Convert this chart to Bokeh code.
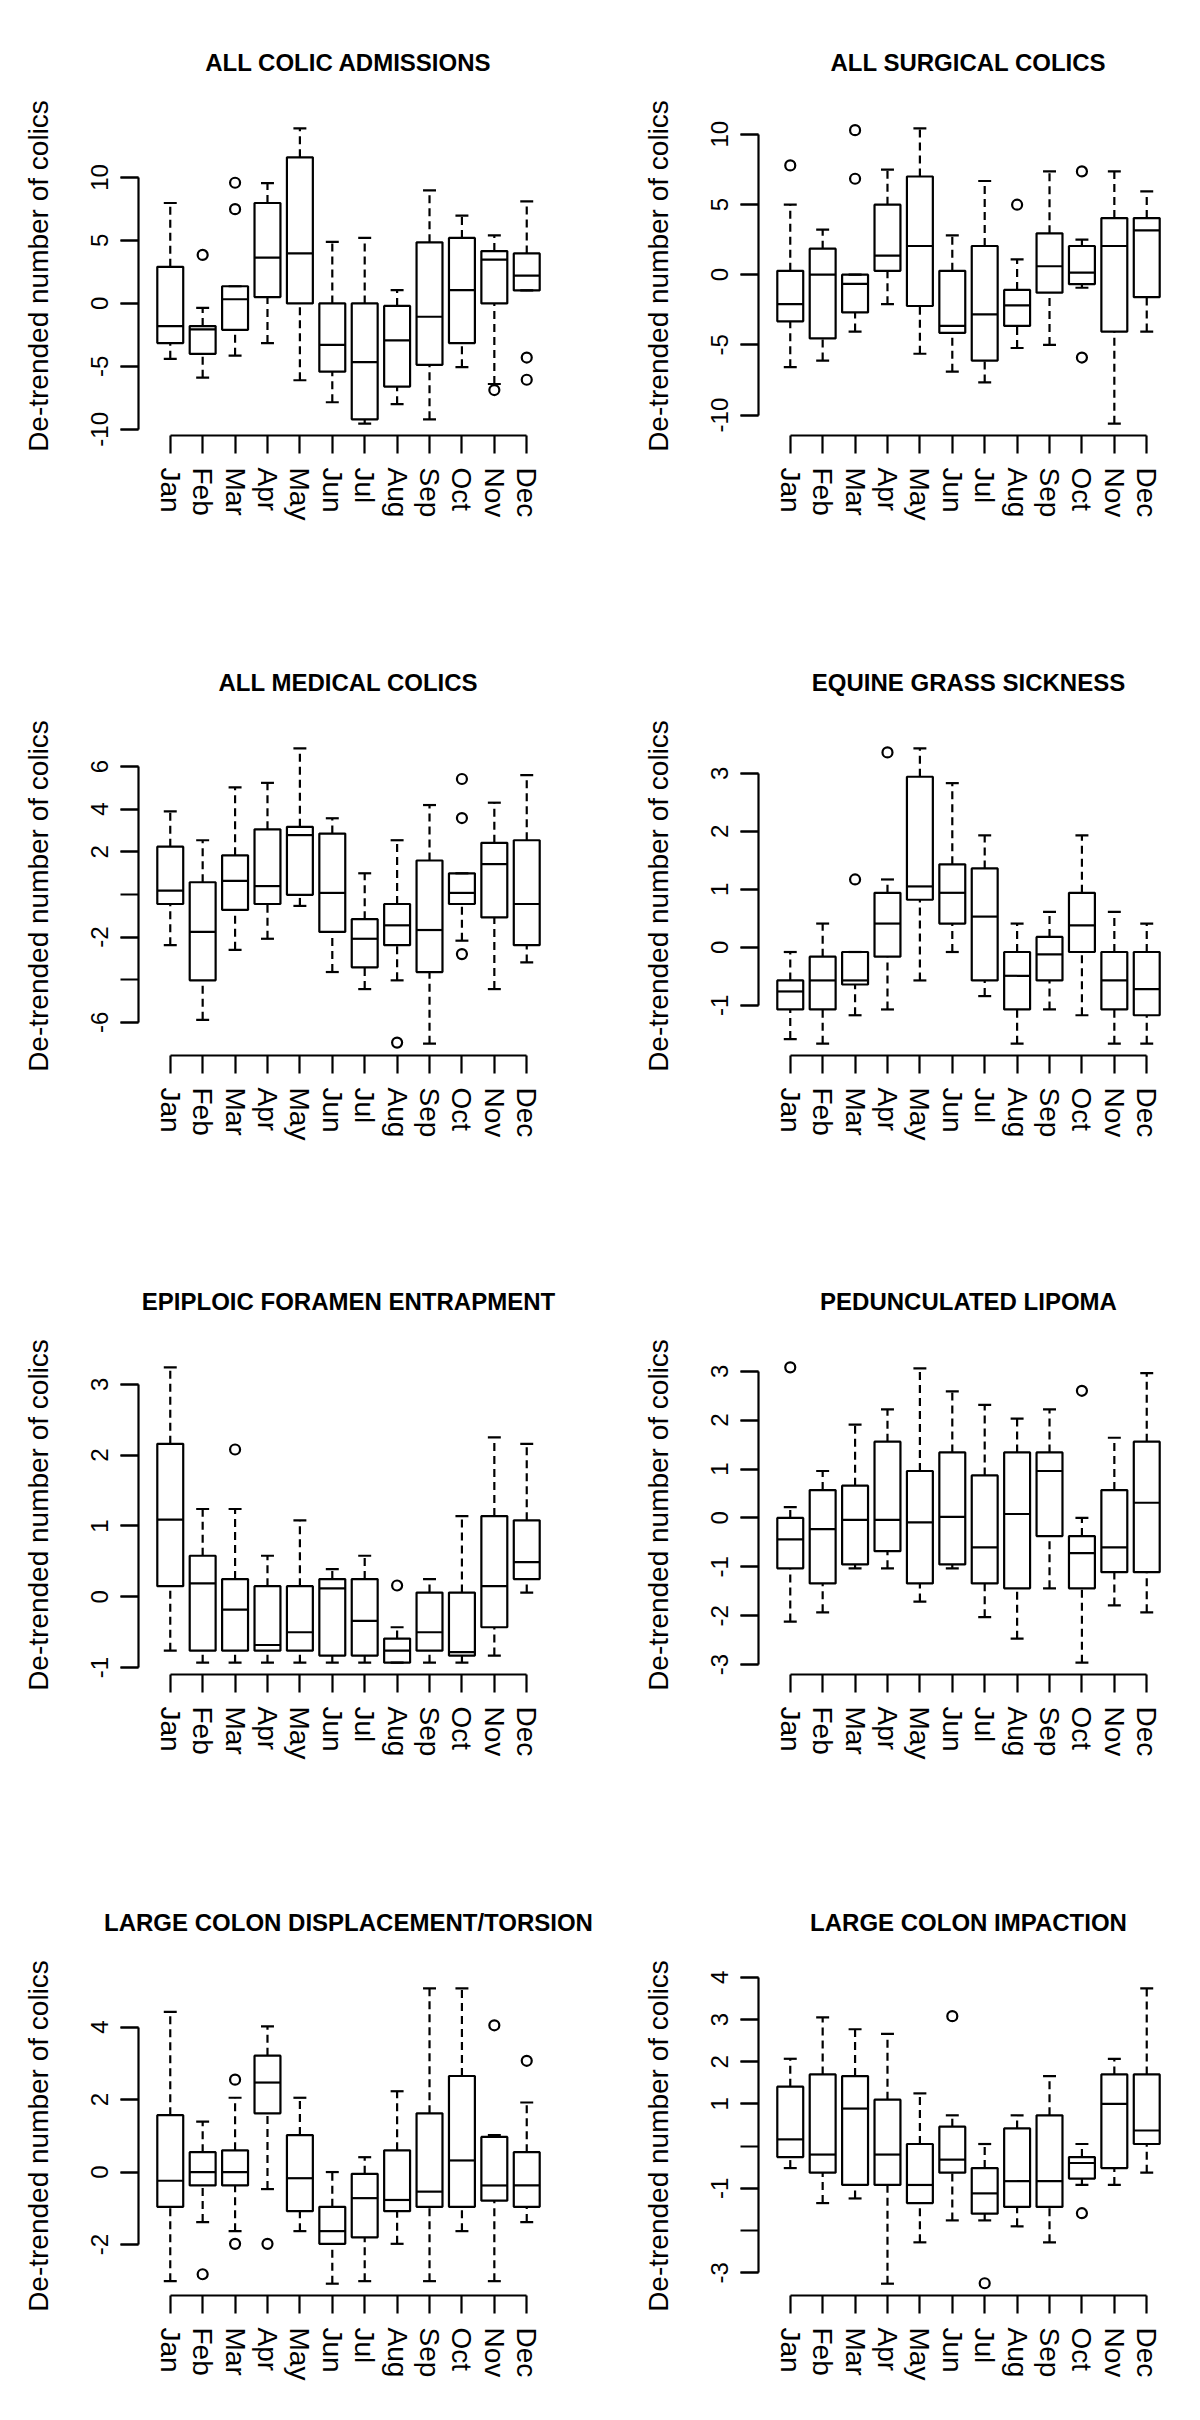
from bokeh.plotting import figure
from bokeh.layouts import column, row
from bokeh.models import FixedTicker, Range1d
from bokeh.embed import file_html
from bokeh.resources import INLINE

MONTHS = ["Jan", "Feb", "Mar", "Apr", "May", "Jun", "Jul", "Aug", "Sep", "Oct", "Nov", "Dec"]

# ---- ALL COLIC ADMISSIONS ----
ACA_LOW = [-4.4, -5.9, -4.15, -3.15, -6.1, -7.85, -9.55, -8.0, -9.2, -5.06, -6.4, 1.03]
ACA_Q1 = [-3.15, -4.0, -2.1, 0.5, 0.0, -5.42, -9.2, -6.6, -4.88, -3.15, 0.0, 1.03]
ACA_MED = [-1.8, -2.06, 0.33, 3.64, 3.97, -3.3, -4.67, -2.94, -1.06, 1.06, 3.48, 2.2]
ACA_Q3 = [2.9, -1.8, 1.36, 7.97, 11.6, 0.0, 0.0, -0.2, 4.85, 5.2, 4.15, 3.97]
ACA_HIGH = [7.97, -0.36, 1.36, 9.55, 13.9, 4.88, 5.2, 1.06, 8.97, 6.97, 5.4, 8.1]
ACA_OUT_MONTH = [2, 3, 3, 11, 12, 12]
ACA_OUT_VALUE = [3.85, 9.58, 7.48, -6.88, -4.3, -6.06]
ACA_TICKS = [-10, -5, 0, 5, 10]
ACA_LABELLED = [-10, -5, 0, 5, 10]

# ---- ALL SURGICAL COLICS ----
ASC_LOW = [-6.59, -6.12, -4.05, -2.1, -5.63, -6.91, -7.67, -5.22, -5.0, -0.93, -10.61, -4.05]
ASC_Q1 = [-3.32, -4.54, -2.69, 0.27, -2.23, -4.14, -6.12, -3.65, -1.28, -0.68, -4.05, -1.6]
ASC_MED = [-2.1, 0.0, -0.65, 1.36, 2.04, -3.65, -2.83, -2.18, 0.6, 0.14, 2.04, 3.16]
ASC_Q3 = [0.27, 1.85, 0.0, 4.98, 6.99, 0.27, 2.04, -1.09, 2.94, 2.04, 4.03, 4.03]
ASC_HIGH = [4.98, 3.21, 0.0, 7.48, 10.42, 2.8, 6.67, 1.09, 7.35, 2.5, 7.35, 5.93]
ASC_OUT_MONTH = [1, 3, 3, 8, 10, 10]
ASC_OUT_VALUE = [7.78, 10.29, 6.83, 4.98, 7.35, -5.9]
ASC_TICKS = [-10, -5, 0, 5, 10]
ASC_LABELLED = [-10, -5, 0, 5, 10]

# ---- ALL MEDICAL COLICS ----
AMC_LOW = [-2.38, -5.88, -2.6, -2.08, -0.54, -3.64, -4.44, -4.03, -7.0, -2.17, -4.44, -3.19]
AMC_Q1 = [-0.45, -4.03, -0.73, -0.45, -0.02, -1.76, -3.42, -2.38, -3.64, -0.45, -1.08, -2.38]
AMC_MED = [0.18, -1.76, 0.63, 0.39, 2.78, 0.07, -2.08, -1.45, -1.67, 0.07, 1.42, -0.45]
AMC_Q3 = [2.24, 0.57, 1.83, 3.05, 3.17, 2.85, -1.16, -0.45, 1.59, 0.99, 2.42, 2.54]
AMC_HIGH = [3.89, 2.54, 5.02, 5.23, 6.85, 3.57, 0.99, 2.54, 4.19, 0.99, 4.3, 5.59]
AMC_OUT_MONTH = [8, 10, 10, 10]
AMC_OUT_VALUE = [-6.95, 5.41, 3.58, -2.8]
AMC_TICKS = [-6, -4, -2, 0, 2, 4, 6]
AMC_LABELLED = [-6, -2, 2, 4, 6]

# ---- EQUINE GRASS SICKNESS ----
EGS_LOW = [-1.58, -1.66, -1.17, -1.07, -0.57, -0.08, -0.84, -1.66, -1.07, -1.17, -1.66, -1.66]
EGS_Q1 = [-1.07, -1.07, -0.64, -0.16, 0.82, 0.41, -0.57, -1.07, -0.57, -0.08, -1.07, -1.17]
EGS_MED = [-0.76, -0.57, -0.57, 0.41, 1.05, 0.94, 0.53, -0.49, -0.12, 0.38, -0.57, -0.72]
EGS_Q3 = [-0.57, -0.16, -0.08, 0.94, 2.94, 1.43, 1.36, -0.08, 0.18, 0.94, -0.08, -0.08]
EGS_HIGH = [-0.08, 0.41, -0.08, 1.17, 3.43, 2.83, 1.93, 0.41, 0.61, 1.93, 0.61, 0.41]
EGS_OUT_MONTH = [3, 4]
EGS_OUT_VALUE = [1.17, 3.36]
EGS_TICKS = [-1, 0, 1, 2, 3]
EGS_LABELLED = [-1, 0, 1, 2, 3]

# ---- EPIPLOIC FORAMEN ENTRAPMENT ----
EFE_LOW = [-0.76, -0.93, -0.93, -0.93, -0.93, -0.93, -0.93, -0.93, -0.93, -0.93, -0.83, 0.06]
EFE_Q1 = [0.15, -0.76, -0.76, -0.76, -0.76, -0.83, -0.83, -0.93, -0.76, -0.83, -0.43, 0.25]
EFE_MED = [1.09, 0.19, -0.18, -0.68, -0.5, 0.12, -0.34, -0.76, -0.5, -0.78, 0.15, 0.49]
EFE_Q3 = [2.16, 0.58, 0.25, 0.15, 0.15, 0.25, 0.25, -0.59, 0.06, 0.06, 1.14, 1.08]
EFE_HIGH = [3.24, 1.24, 1.24, 0.58, 1.08, 0.39, 0.58, -0.43, 0.25, 1.14, 2.25, 2.16]
EFE_OUT_MONTH = [3, 8]
EFE_OUT_VALUE = [2.08, 0.16]
EFE_TICKS = [-1, 0, 1, 2, 3]
EFE_LABELLED = [-1, 0, 1, 2, 3]

# ---- PEDUNCULATED LIPOMA ----
PL_LOW = [-2.12, -1.93, -1.03, -1.03, -1.71, -1.03, -2.03, -2.47, -1.44, -2.96, -1.79, -1.93]
PL_Q1 = [-1.03, -1.34, -0.95, -0.68, -1.34, -0.95, -1.34, -1.44, -0.37, -1.44, -1.11, -1.11]
PL_MED = [-0.44, -0.23, -0.04, -0.04, -0.09, 0.02, -0.6, 0.08, 0.96, -0.72, -0.6, 0.31]
PL_Q3 = [0.0, 0.57, 0.66, 1.56, 0.96, 1.34, 0.87, 1.34, 1.34, -0.37, 0.57, 1.56]
PL_HIGH = [0.22, 0.96, 1.91, 2.22, 3.06, 2.59, 2.31, 2.03, 2.22, 0.0, 1.64, 2.96]
PL_OUT_MONTH = [1, 10]
PL_OUT_VALUE = [3.08, 2.6]
PL_TICKS = [-3, -2, -1, 0, 1, 2, 3]
PL_LABELLED = [-3, -2, -1, 0, 1, 2, 3]

# ---- LARGE COLON DISPLACEMENT/TORSION ----
LCD_LOW = [-3.01, -1.38, -1.63, -0.47, -1.63, -3.08, -3.01, -1.98, -3.01, -1.63, -3.01, -1.38]
LCD_Q1 = [-0.96, -0.37, -0.37, 1.62, -1.08, -1.98, -1.8, -1.08, -0.96, -0.96, -0.79, -0.96]
LCD_MED = [-0.24, 0.0, 0.0, 2.47, -0.17, -1.63, -0.72, -0.77, -0.54, 0.32, -0.37, -0.37]
LCD_Q3 = [1.57, 0.55, 0.6, 3.21, 1.02, -0.96, -0.05, 0.6, 1.62, 2.65, 0.97, 0.55]
LCD_HIGH = [4.42, 1.39, 2.05, 4.02, 2.05, 0.0, 0.41, 2.23, 5.07, 5.07, 1.02, 1.92]
LCD_OUT_MONTH = [2, 3, 3, 4, 11, 12]
LCD_OUT_VALUE = [-2.82, 2.55, -1.98, -1.98, 4.05, 3.07]
LCD_TICKS = [-2, 0, 2, 4]
LCD_LABELLED = [-2, 0, 2, 4]

# ---- LARGE COLON IMPACTION ----
LCI_LOW = [-0.52, -1.35, -1.24, -3.26, -2.28, -1.76, -1.76, -1.9, -2.28, -0.92, -0.92, -0.63]
LCI_Q1 = [-0.26, -0.63, -0.92, -0.92, -1.35, -0.63, -1.6, -1.44, -1.44, -0.77, -0.52, 0.05]
LCI_MED = [0.16, -0.2, 0.89, -0.2, -0.92, -0.32, -1.12, -0.83, -0.83, -0.4, 1.0, 0.37]
LCI_Q3 = [1.41, 1.7, 1.66, 1.1, 0.05, 0.46, -0.52, 0.42, 0.73, -0.26, 1.7, 1.7]
LCI_HIGH = [2.07, 3.05, 2.77, 2.66, 1.25, 0.73, 0.05, 0.73, 1.66, 0.05, 2.07, 3.74]
LCI_OUT_MONTH = [6, 7, 10]
LCI_OUT_VALUE = [3.08, -3.25, -1.59]
LCI_TICKS = [-3, -2, -1, 0, 1, 2, 3, 4]
LCI_LABELLED = [-3, -1, 1, 2, 3, 4]

PANELS = [
    ("ALL COLIC ADMISSIONS", ACA_LOW, ACA_Q1, ACA_MED, ACA_Q3, ACA_HIGH, ACA_OUT_MONTH, ACA_OUT_VALUE, ACA_TICKS, ACA_LABELLED),
    ("ALL SURGICAL COLICS", ASC_LOW, ASC_Q1, ASC_MED, ASC_Q3, ASC_HIGH, ASC_OUT_MONTH, ASC_OUT_VALUE, ASC_TICKS, ASC_LABELLED),
    ("ALL MEDICAL COLICS", AMC_LOW, AMC_Q1, AMC_MED, AMC_Q3, AMC_HIGH, AMC_OUT_MONTH, AMC_OUT_VALUE, AMC_TICKS, AMC_LABELLED),
    ("EQUINE GRASS SICKNESS", EGS_LOW, EGS_Q1, EGS_MED, EGS_Q3, EGS_HIGH, EGS_OUT_MONTH, EGS_OUT_VALUE, EGS_TICKS, EGS_LABELLED),
    ("EPIPLOIC FORAMEN ENTRAPMENT", EFE_LOW, EFE_Q1, EFE_MED, EFE_Q3, EFE_HIGH, EFE_OUT_MONTH, EFE_OUT_VALUE, EFE_TICKS, EFE_LABELLED),
    ("PEDUNCULATED LIPOMA", PL_LOW, PL_Q1, PL_MED, PL_Q3, PL_HIGH, PL_OUT_MONTH, PL_OUT_VALUE, PL_TICKS, PL_LABELLED),
    ("LARGE COLON DISPLACEMENT/TORSION", LCD_LOW, LCD_Q1, LCD_MED, LCD_Q3, LCD_HIGH, LCD_OUT_MONTH, LCD_OUT_VALUE, LCD_TICKS, LCD_LABELLED),
    ("LARGE COLON IMPACTION", LCI_LOW, LCI_Q1, LCI_MED, LCI_Q3, LCI_HIGH, LCI_OUT_MONTH, LCI_OUT_VALUE, LCI_TICKS, LCI_LABELLED),
]

Y_LABEL = "De-trended number of colics"

# ---- layout / style ----
FONT = "Liberation Sans"
FIG_W = 592
FRAME_W = 420
FRAME_H = 319
COL_LEFT = [138, 166]
ROW_H = [602, 620, 620, 562]
ROW_TOP = [116, 134, 133, 134]
LW = 2.2
TICK_LEN = 18


def make_panel(idx, spec):
    title, low, q1, med, q3, high, om, ov, ticks, labelled = spec
    r, c = divmod(idx, 2)
    n = len(MONTHS)
    xs = list(range(1, n + 1))
    xpad = 0.04 * n
    x0, x1 = 0.5 - xpad, n + 0.5 + xpad
    allv = low + high + ov
    lo, hi = min(allv), max(allv)
    ypad = 0.04 * (hi - lo)
    y0, y1 = lo - ypad, hi + ypad

    p = figure(width=FIG_W, height=ROW_H[r],
               x_range=Range1d(x0, x1), y_range=Range1d(y0, y1),
               output_backend="svg", toolbar_location=None,
               min_border_left=COL_LEFT[c],
               min_border_right=FIG_W - COL_LEFT[c] - FRAME_W,
               min_border_top=ROW_TOP[r],
               min_border_bottom=ROW_H[r] - ROW_TOP[r] - FRAME_H)
    p.outline_line_color = None
    p.grid.visible = False
    p.background_fill_color = "white"
    p.border_fill_color = "white"

    p.title.text = title
    p.title.align = "center"
    p.title.text_font = FONT
    p.title.text_font_size = "24px"
    p.title.text_font_style = "bold"
    p.title.text_color = "black"
    p.title.standoff = 82

    # x axis
    xa = p.xaxis[0]
    xa.ticker = FixedTicker(ticks=xs)
    xa.major_label_overrides = {i: m for i, m in zip(xs, MONTHS)}
    xa.bounds = (xs[0], xs[-1])
    xa.major_label_orientation = "vertical"
    xa.major_tick_out = TICK_LEN
    xa.major_tick_in = 0
    xa.minor_tick_out = 0
    xa.minor_tick_in = 0
    xa.axis_line_width = LW
    xa.major_tick_line_width = LW
    xa.axis_line_color = "black"
    xa.major_tick_line_color = "black"
    xa.major_label_text_font = FONT
    xa.major_label_text_font_size = "28px"
    xa.major_label_text_color = "black"
    xa.major_label_standoff = 14

    # y axis
    ya = p.yaxis[0]
    ya.ticker = FixedTicker(ticks=labelled, minor_ticks=ticks)
    ya.major_label_overrides = {v: str(v) for v in labelled}
    ya.bounds = (min(ticks), max(ticks))
    ya.major_label_orientation = "vertical"
    ya.major_tick_out = TICK_LEN
    ya.major_tick_in = 0
    ya.minor_tick_out = TICK_LEN
    ya.minor_tick_in = 0
    ya.axis_line_width = LW
    ya.major_tick_line_width = LW
    ya.minor_tick_line_width = LW
    ya.axis_line_color = "black"
    ya.major_tick_line_color = "black"
    ya.minor_tick_line_color = "black"
    ya.major_label_text_font = FONT
    ya.major_label_text_font_size = "24px"
    ya.major_label_text_color = "black"
    ya.major_label_standoff = 12
    ya.axis_label = Y_LABEL
    ya.axis_label_text_font = FONT
    ya.axis_label_text_font_size = "28px"
    ya.axis_label_text_font_style = "normal"
    ya.axis_label_text_color = "black"
    ya.axis_label_standoff = 35

    half = 0.4
    cap = 0.2
    p.segment(x0=xs, y0=q3, x1=xs, y1=high, line_color="black", line_width=LW, line_dash="8 5")
    p.segment(x0=xs, y0=low, x1=xs, y1=q1, line_color="black", line_width=LW, line_dash="8 5")
    p.quad(left=[x - half for x in xs], right=[x + half for x in xs], bottom=q1, top=q3,
           fill_color="white", line_color="black", line_width=LW)
    p.segment(x0=[x - half for x in xs], y0=med, x1=[x + half for x in xs], y1=med,
              line_color="black", line_width=LW)
    p.segment(x0=[x - cap for x in xs], y0=high, x1=[x + cap for x in xs], y1=high,
              line_color="black", line_width=LW)
    p.segment(x0=[x - cap for x in xs], y0=low, x1=[x + cap for x in xs], y1=low,
              line_color="black", line_width=LW)
    p.scatter(x=om, y=ov, marker="circle", size=10, fill_color=None,
              line_color="black", line_width=LW)
    return p


figs = [make_panel(i, s) for i, s in enumerate(PANELS)]
layout = column(*[row(figs[2 * k], figs[2 * k + 1]) for k in range(4)])

open("out.html", "w").write(file_html(layout, INLINE))
